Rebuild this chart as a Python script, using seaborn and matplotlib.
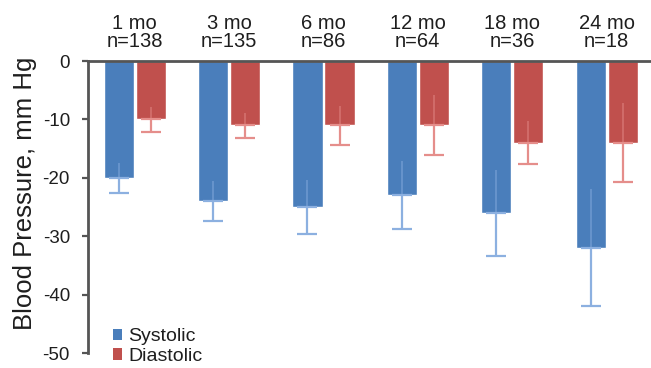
import matplotlib
matplotlib.use("Agg")
import matplotlib.pyplot as plt
import seaborn as sns
import pandas as pd
import numpy as np
from matplotlib.patches import Patch

# Follow-up intervals and cohort sizes
months = ["1 mo", "3 mo", "6 mo", "12 mo", "18 mo", "24 mo"]
n_patients = [138, 135, 86, 64, 36, 18]

# Mean change in blood pressure (mm Hg) and error magnitudes
systolic = [-20, -24, -25, -23, -26, -32]
systolic_err = [2.6, 3.4, 4.6, 5.8, 7.4, 10.0]
diastolic = [-10, -11, -11, -11, -14, -14]
diastolic_err = [2.1, 2.1, 3.3, 5.1, 3.7, 6.8]

series = ["Systolic", "Diastolic"]
bar_colors = {"Systolic": "#4a7ebb", "Diastolic": "#c0504d"}
err_colors = {"Systolic": "#8cb0e0", "Diastolic": "#e58e8b"}

df = pd.DataFrame({
    "month": months * 2,
    "series": ["Systolic"] * len(months) + ["Diastolic"] * len(months),
    "value": systolic + diastolic,
    "err": systolic_err + diastolic_err,
})

sns.set_style("white")
plt.rcParams["font.family"] = ["Liberation Sans", "DejaVu Sans"]
text_color = "#1e1e1e"
axis_color = "#555555"

fig = plt.figure(figsize=(6.51, 3.68), dpi=100)
ax = fig.add_axes([88 / 651, 1 - 353 / 368, 1 - 88 / 651, 292 / 368])

sns.barplot(data=df, x="month", y="value", hue="series", order=months,
            hue_order=series, palette=bar_colors, width=0.68, gap=0.06,
            errorbar=None, legend=False, saturation=1, ax=ax, zorder=2)

# Error bars: a visible lower whisker with a cap, and a faint stem inside the bar
for cont, name in zip(ax.containers, series):
    sub = df[df["series"] == name].set_index("month").loc[months]
    xs = np.array([p.get_x() + p.get_width() / 2 for p in cont.patches])
    vals = sub["value"].to_numpy()
    errs = sub["err"].to_numpy()
    ax.errorbar(xs, vals, yerr=[errs, np.zeros_like(errs)], fmt="none",
                ecolor=err_colors[name], elinewidth=1.6, capsize=7.5,
                capthick=1.6, zorder=3)
    ax.vlines(xs, vals, vals + errs, colors=err_colors[name], linewidth=1.4,
              alpha=0.45, zorder=3)

ax.set_ylim(-50, 0)
ax.set_xlim(-0.495, 5.47)
ax.set_yticks([0, -10, -20, -30, -40, -50])
ax.set_yticklabels(["0", "-10", "-20", "-30", "-40", "-50"])

# Category labels sit above the zero line
ax.xaxis.tick_top()
ax.set_xticks(range(len(months)))
ax.set_xticklabels([f"{m}\nn={n}" for m, n in zip(months, n_patients)],
                   fontsize=14.5, color=text_color, linespacing=0.95)
ax.tick_params(axis="x", length=0, pad=7)
ax.tick_params(axis="y", direction="out", length=4, width=1.6,
               color=axis_color, labelsize=13.5, labelcolor=text_color, pad=9,
               left=True)
ax.set_xlabel("")

for side in ["right", "bottom"]:
    ax.spines[side].set_visible(False)
ax.spines["top"].set_color(axis_color)
ax.spines["top"].set_linewidth(2)
ax.spines["left"].set_color(axis_color)
ax.spines["left"].set_linewidth(2)
ax.spines["top"].set_zorder(5)

ax.set_ylabel("Blood Pressure, mm Hg", fontsize=18.5, color=text_color)
ax.yaxis.set_label_coords(-0.09, 0.546)

handles = [Patch(facecolor=bar_colors[s], edgecolor="none", label=s) for s in series]
ax.legend(handles=handles, loc="upper left", bbox_to_anchor=(0.028, 0.118),
          frameon=False, fontsize=14, handlelength=0.45, handleheight=0.55,
          handletextpad=0.3, labelspacing=0.15, borderpad=0,
          labelcolor=text_color)

fig.savefig("out.png", dpi=100)
